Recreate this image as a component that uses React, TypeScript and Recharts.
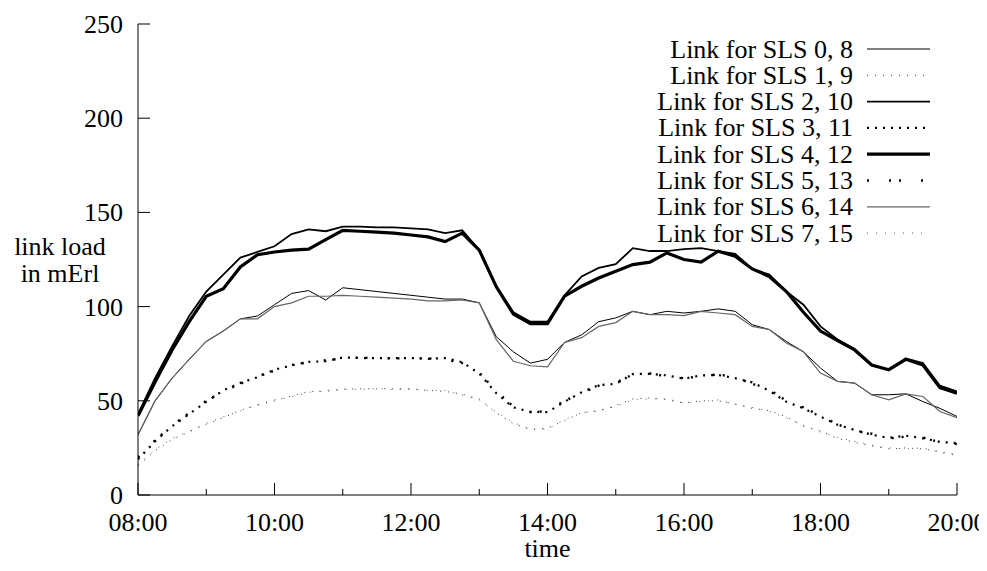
import React from 'react';
import { LineChart, Line, XAxis, YAxis, Legend } from 'recharts';

const times = [
  '08:00', '08:15', '08:30', '08:45', '09:00', '09:15', '09:30', '09:45',
  '10:00', '10:15', '10:30', '10:45', '11:00', '11:15', '11:30', '11:45',
  '12:00', '12:15', '12:30', '12:45', '13:00', '13:15', '13:30', '13:45',
  '14:00', '14:15', '14:30', '14:45', '15:00', '15:15', '15:30', '15:45',
  '16:00', '16:15', '16:30', '16:45', '17:00', '17:15', '17:30', '17:45',
  '18:00', '18:15', '18:30', '18:45', '19:00', '19:15', '19:30', '19:45',
  '20:00',
];

const hourTicks = [8, 9, 10, 11, 12, 13, 14, 15, 16, 17, 18, 19, 20];
const xTickLabels = ['08:00', '10:00', '12:00', '14:00', '16:00', '18:00', '20:00'];
const yTicks = [0, 50, 100, 150, 200, 250];

const seriesNames = [
  'Link for SLS 0, 8',
  'Link for SLS 1, 9',
  'Link for SLS 2, 10',
  'Link for SLS 3, 11',
  'Link for SLS 4, 12',
  'Link for SLS 5, 13',
  'Link for SLS 6, 14',
  'Link for SLS 7, 15',
];

const sls0 = [32, 50, 62, 72, 81.5, 87, 93.5, 95, 101, 107, 108.5, 103.5, 110, 109, 108, 107, 106, 105, 104, 104, 102, 84, 76, 70, 72, 81, 85, 92, 94, 97.5, 95.7, 97.5, 96.6, 97.5, 98.8, 97.5, 90.4, 87.8, 81.5, 76, 67.4, 60.3, 59.4, 53.2, 53.2, 53.7, 49.6, 46, 41.7];
const sls1 = [15.5, 23.5, 29.5, 33.5, 37.5, 41, 45, 47.7, 50, 52.5, 55, 55, 56.2, 56.4, 56.4, 56.4, 56.4, 55.5, 55, 53.5, 51, 43.5, 38, 34.7, 35.5, 39.5, 43.8, 44.5, 47.5, 51, 51.5, 50.5, 48.8, 50, 50, 48.3, 46, 44.8, 41.5, 36.5, 34, 30, 28, 26, 24.5, 25, 24.5, 23, 21.5];
const sls2 = [43, 62, 79, 95, 108, 117, 126, 129, 132, 138.5, 141, 140, 142.5, 142.5, 142, 142, 141.5, 141, 139, 140.5, 130, 111, 97, 92, 92, 106, 116, 120.5, 122.5, 131, 129.5, 129.5, 130.5, 131, 129.5, 128, 120, 117, 108, 101, 89.5, 82.5, 77.5, 69, 66.5, 72.5, 70, 58, 55];
const sls3 = [19, 28.5, 36.5, 43, 49.5, 55.5, 59.5, 62.5, 66.5, 68.8, 70.7, 71, 73, 72.7, 72.7, 72.7, 72.7, 72.3, 72.7, 70.5, 64.5, 54, 46.5, 44.2, 44, 49.5, 54.5, 58.3, 59, 64.2, 64.3, 63.5, 61.7, 63.5, 63.7, 62, 59.8, 55.3, 49.5, 46, 41.6, 37.3, 34.5, 32, 30.3, 31.5, 30.1, 28.2, 27.5];
const sls4 = [42, 60, 77, 92, 105.5, 109.5, 121, 127.5, 129, 130, 130.5, 135.5, 140.5, 140, 139.5, 139, 138, 137, 134.5, 139, 130, 110.5, 96, 91, 91, 105.5, 110.8, 115.2, 118.8, 122.3, 123.6, 128.5, 125, 123.6, 129.4, 126.8, 120, 116, 108, 97, 87, 82, 77, 69, 66.5, 72, 69, 57, 54];
const sls5 = [20, 29, 37, 43.5, 50, 55, 59, 63, 66, 69, 70.5, 71.5, 72.5, 73, 72.5, 72.5, 72.5, 72.5, 72, 70, 65, 55, 47, 44, 44.5, 50, 54, 58, 59.5, 64, 64.5, 63, 62, 63, 64, 62.5, 59, 56, 50, 46.5, 42, 37.5, 34, 32.5, 30, 31, 30.5, 28, 27];
const sls6 = [32, 50, 62, 72, 81.5, 87, 93.5, 93.5, 100, 102, 105.5, 105.5, 106, 105.5, 105, 104.5, 104, 103, 103, 103.5, 102, 82.5, 71, 68.6, 68, 81, 83.5, 89.5, 91.5, 97.5, 95.7, 95.7, 95.2, 97.5, 96.6, 95.7, 89.5, 87.8, 80.7, 76, 64.7, 60.3, 59.4, 53.2, 50.5, 53.7, 52.3, 44.3, 41];
const sls7 = [16, 24, 30, 34, 38, 41.5, 44.5, 48, 50.5, 52, 54.5, 55.5, 56, 56, 56.5, 56, 56, 55.5, 55.5, 53, 50.5, 44, 38.5, 35, 35, 40, 43.5, 45, 47, 50.5, 51, 51, 49, 49.5, 50.5, 48, 46.5, 44.5, 41, 37, 33.5, 30.5, 28.5, 26.5, 25, 24.5, 25, 22.5, 21];

const seriesValues = [sls0, sls1, sls2, sls3, sls4, sls5, sls6, sls7];

const seriesStyles = [
  { stroke: '#000', width: 1, dash: undefined },
  { stroke: '#333', width: 1, dash: '1 7' },
  { stroke: '#000', width: 1.8, dash: undefined },
  { stroke: '#000', width: 2.2, dash: '2 6' },
  { stroke: '#000', width: 3.2, dash: undefined },
  { stroke: '#000', width: 2.4, dash: '2 20 2 8' },
  { stroke: '#666', width: 1.2, dash: undefined },
  { stroke: '#555', width: 1, dash: '1 8' },
];

const toHours = (t: string) => {
  const [h, m] = t.split(':').map(Number);
  return h + m / 60;
};

const data = times.map((t, i) => {
  const row: Record<string, number | string> = { t, h: toHours(t) };
  seriesValues.forEach((vals, k) => {
    row['s' + k] = vals[i];
  });
  return row;
});

const FONT = '"Liberation Serif", "Times New Roman", serif';
const FS = 26;

const labelForHour = (h: number) => {
  const idx = xTickLabels.findIndex((l) => toHours(l) === h);
  return idx >= 0 ? xTickLabels[idx] : '';
};

const BottomTick = (props: any) => {
  const { x, y, payload } = props;
  const lbl = labelForHour(payload.value);
  const len = lbl ? 12 : 6;
  return (
    <g>
      <line x1={x} y1={y} x2={x} y2={y - len} stroke="#000" strokeWidth={1} />
      {lbl && (
        <text x={x} y={y + 35.5} textAnchor="middle" fontFamily={FONT} fontSize={FS} fill="#000">
          {lbl}
        </text>
      )}
    </g>
  );
};

const TopTick = (props: any) => {
  const { x, y, payload } = props;
  const len = labelForHour(payload.value) ? 12 : 6;
  return <line x1={x} y1={y} x2={x} y2={y + len} stroke="#000" strokeWidth={1} />;
};

const LeftTick = (props: any) => {
  const { x, y, payload } = props;
  return (
    <g>
      <line x1={x} y1={y} x2={x + 12} y2={y} stroke="#000" strokeWidth={1} />
      <text x={x - 15} y={y + 9} textAnchor="end" fontFamily={FONT} fontSize={FS} fill="#000">
        {payload.value}
      </text>
    </g>
  );
};

const RightTick = (props: any) => {
  const { x, y } = props;
  return <line x1={x} y1={y} x2={x - 12} y2={y} stroke="#000" strokeWidth={1} />;
};

const YLabel = (props: any) => {
  const vb = props.viewBox || { x: 0, y: 0 };
  const cx = vb.x + 52;
  return (
    <text textAnchor="middle" fontFamily={FONT} fontSize={FS} fill="#000">
      <tspan x={cx} y={246.5}>link load</tspan>
      <tspan x={cx} y={274}>in mErl</tspan>
    </text>
  );
};

const XLabel = (props: any) => {
  const vb = props.viewBox || { x: 0, y: 0, width: 0 };
  return (
    <text x={vb.x + vb.width / 2} y={549} textAnchor="middle" fontFamily={FONT} fontSize={FS} fill="#000">
      time
    </text>
  );
};

const LegendBox = () => {
  const rowH = 26.3;
  return (
    <svg width={330} height={215} style={{ display: 'block', overflow: 'visible' }}>
      {seriesNames.map((name, i) => {
        const st = seriesStyles[i];
        const ly = 11 + rowH * i;
        return (
          <g key={name}>
            <text x={235} y={ly + 8.5} textAnchor="end" fontFamily={FONT} fontSize={FS} fill="#000">
              {name}
            </text>
            <line
              x1={249}
              x2={312}
              y1={ly}
              y2={ly}
              stroke={st.stroke}
              strokeWidth={st.width}
              strokeDasharray={st.dash}
            />
          </g>
        );
      })}
    </svg>
  );
};

export default function App() {
  return (
    <div style={{ width: 971, height: 555, overflow: 'visible' }}>
      <style>{'.recharts-surface, .recharts-wrapper { overflow: visible !important; }'}</style>
      <LineChart
        width={971}
        height={555}
        data={data}
        margin={{ top: 16, right: 22, left: 0, bottom: 8 }}
      >
        <XAxis
          xAxisId="b"
          dataKey="h"
          type="number"
          domain={[8, 20]}
          allowDataOverflow
          ticks={hourTicks}
          interval={0}
          tickSize={0}
          tickMargin={0}
          tickLine={false}
          axisLine={{ stroke: '#000', strokeWidth: 1 }}
          tick={(p: any) => <BottomTick {...p} />}
          height={60}
          label={(p: any) => <XLabel {...p} />}
        />
        <XAxis
          xAxisId="t"
          orientation="top"
          dataKey="h"
          type="number"
          domain={[8, 20]}
          allowDataOverflow
          ticks={hourTicks}
          interval={0}
          tickSize={0}
          tickMargin={0}
          tickLine={false}
          axisLine={{ stroke: '#000', strokeWidth: 1 }}
          tick={(p: any) => <TopTick {...p} />}
          height={0}
        />
        <YAxis
          yAxisId="l"
          type="number"
          domain={[0, 250]}
          allowDataOverflow
          ticks={yTicks}
          interval={0}
          tickSize={0}
          tickMargin={0}
          tickLine={false}
          axisLine={{ stroke: '#000', strokeWidth: 1 }}
          tick={(p: any) => <LeftTick {...p} />}
          width={130}
          label={(p: any) => <YLabel {...p} />}
        />
        <YAxis
          yAxisId="r"
          orientation="right"
          type="number"
          domain={[0, 250]}
          allowDataOverflow
          ticks={yTicks}
          interval={0}
          tickSize={0}
          tickMargin={0}
          tickLine={false}
          axisLine={{ stroke: '#000', strokeWidth: 1 }}
          tick={(p: any) => <RightTick {...p} />}
          width={0}
        />
        <Legend
          layout="vertical"
          align="center"
          verticalAlign="middle"
          content={() => <LegendBox />}
          wrapperStyle={{ left: 610, top: 30, width: 330, height: 215 }}
        />
        {seriesNames.map((name, k) => {
          const st = seriesStyles[k];
          return (
            <Line
              key={name}
              xAxisId="b"
              yAxisId="l"
              name={name}
              dataKey={'s' + k}
              type="linear"
              stroke={st.stroke}
              strokeWidth={st.width}
              strokeDasharray={st.dash}
              dot={false}
              activeDot={false}
              isAnimationActive={false}
            />
          );
        })}
      </LineChart>
    </div>
  );
}
